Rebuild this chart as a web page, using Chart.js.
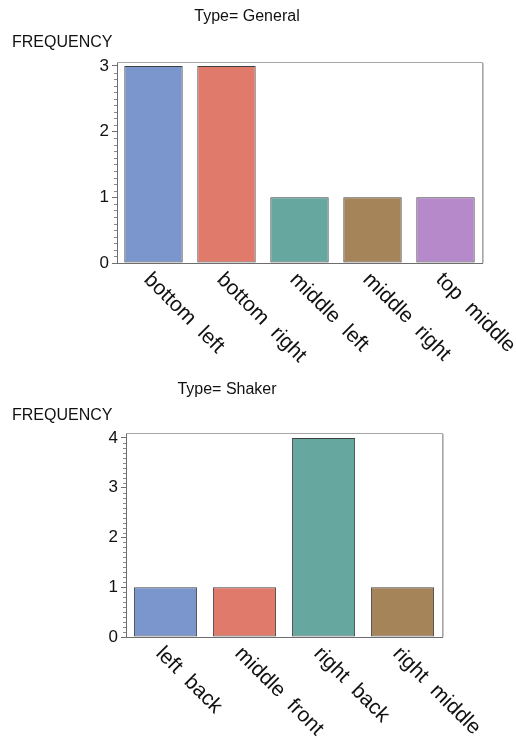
<!DOCTYPE html>
<html>
<head>
<meta charset="utf-8">
<script src="https://cdn.jsdelivr.net/npm/chart.js@4/dist/chart.umd.min.js"></script>
<style>
  html, body { margin: 0; padding: 0; background: #fff; }
  body { width: 516px; height: 742px; position: relative; overflow: hidden; }
  .panel { position: absolute; left: 0; width: 516px; height: 371px; }
  #p1 { top: 0; }
  #p2 { top: 371px; }
</style>
</head>
<body>
<div class="panel" id="p1"><canvas id="c1"></canvas></div>
<div class="panel" id="p2"><canvas id="c2"></canvas></div>
<script>
// ---- data ----
const generalTitle = 'Type= General';
const generalCategories = ['bottom left', 'bottom right', 'middle left', 'middle right', 'top middle'];
const generalFreq = [3, 3, 1, 1, 1];
const generalYTicks = [0, 1, 2, 3];

const shakerTitle = 'Type= Shaker';
const shakerCategories = ['left back', 'middle front', 'right back', 'right middle'];
const shakerFreq = [1, 1, 4, 1];
const shakerYTicks = [0, 1, 2, 3, 4];

const yAxisLabel = 'FREQUENCY';
const barColors = ['#7b95cd', '#e07b6c', '#66a8a0', '#a6845a', '#b589ca'];

// ---- styling ----
const FONT = '"Liberation Sans", Arial, Helvetica, sans-serif';
Chart.defaults.font.family = FONT;
Chart.defaults.color = '#111';

const boxPlugin = {
  id: 'boxAndLabels',
  afterDraw(chart) {
    const ctx = chart.ctx;
    const a = chart.chartArea;
    const y = chart.scales.y;
    const x = chart.scales.x;
    ctx.save();
    // frame (top and right)
    ctx.strokeStyle = '#a6a6a6';
    ctx.lineWidth = 1;
    ctx.beginPath();
    ctx.moveTo(a.left, a.top + 0.5);
    ctx.lineTo(a.right + 0.5, a.top + 0.5);
    ctx.lineTo(a.right + 0.5, a.bottom);
    ctx.stroke();
    ctx.strokeStyle = '#c8c8c8';
    ctx.beginPath();
    ctx.moveTo(a.right + 1.5, a.top + 1);
    ctx.lineTo(a.right + 1.5, a.bottom);
    ctx.stroke();
    // minor ticks
    ctx.strokeStyle = '#8a8a8a';
    const step = 0.1;
    for (let i = 1; i * step < y.max - 1e-9; i++) {
      if (i % 10 === 0) continue;
      const py = Math.round(y.getPixelForValue(i * step)) + 0.5;
      ctx.beginPath();
      ctx.moveTo(a.left - 3, py);
      ctx.lineTo(a.left, py);
      ctx.stroke();
    }
    // rotated category labels
    ctx.fillStyle = '#111';
    ctx.font = '21px ' + FONT;
    if ('wordSpacing' in ctx) ctx.wordSpacing = '6px';
    ctx.textAlign = 'left';
    ctx.textBaseline = 'top';
    chart.data.labels.forEach((lab, i) => {
      const px = x.getPixelForValue(i);
      ctx.save();
      ctx.translate(px + 1, x.top + 6);
      ctx.rotate(Math.PI / 4);
      ctx.fillText(lab, 0, 0);
      ctx.restore();
    });
    ctx.restore();
  }
};

function makeChart(id, title, cats, vals, yTicks, yMax, geom) {
  return new Chart(document.getElementById(id), {
    type: 'bar',
    data: {
      labels: cats,
      datasets: [{
        data: vals,
        backgroundColor: barColors.slice(0, cats.length),
        borderColor: 'rgba(30,30,30,0.85)',
        borderWidth: 1,
        borderSkipped: false,
        barPercentage: 0.8,
        categoryPercentage: 1.0
      }]
    },
    options: {
      responsive: true,
      maintainAspectRatio: false,
      animation: false,
      devicePixelRatio: 1,
      layout: { padding: { left: 12, right: geom.right, top: 0, bottom: 0 } },
      plugins: {
        legend: { display: false },
        tooltip: { enabled: false },
        title: {
          display: true, text: title, color: '#111',
          font: { size: 16, weight: 'normal' },
          padding: { top: geom.titleTop, bottom: 0 }
        },
        subtitle: {
          display: true, text: yAxisLabel, align: 'start', color: '#111',
          font: { size: 16, weight: 'normal' },
          padding: { top: 7, bottom: geom.subBottom }
        }
      },
      scales: {
        x: {
          offset: true,
          afterFit: s => { s.height = geom.xHeight; },
          grid: { display: true, drawOnChartArea: false, drawTicks: false },
          border: { display: true, color: '#6e6e6e', width: 1 },
          ticks: { display: false }
        },
        y: {
          min: 0, max: yMax,
          afterBuildTicks: s => { s.ticks = yTicks.map(v => ({ value: v })); },
          afterFit: s => { s.width = geom.yWidth; },
          grid: { drawOnChartArea: false, drawTicks: true, tickLength: 5, tickColor: '#6e6e6e' },
          border: { display: true, color: '#6e6e6e', width: 1 },
          ticks: { padding: 3, color: '#111', font: { size: 17 } }
        }
      }
    },
    plugins: [boxPlugin]
  });
}

makeChart('c1', generalTitle, generalCategories, generalFreq, generalYTicks, 3.06,
  { right: 34, titleTop: 7, subBottom: 9.6, xHeight: 108, yWidth: 105 });
makeChart('c2', shakerTitle, shakerCategories, shakerFreq, shakerYTicks, 4.1,
  { right: 74, titleTop: 9, subBottom: 7.6, xHeight: 105, yWidth: 114 });
</script>
</body>
</html>
